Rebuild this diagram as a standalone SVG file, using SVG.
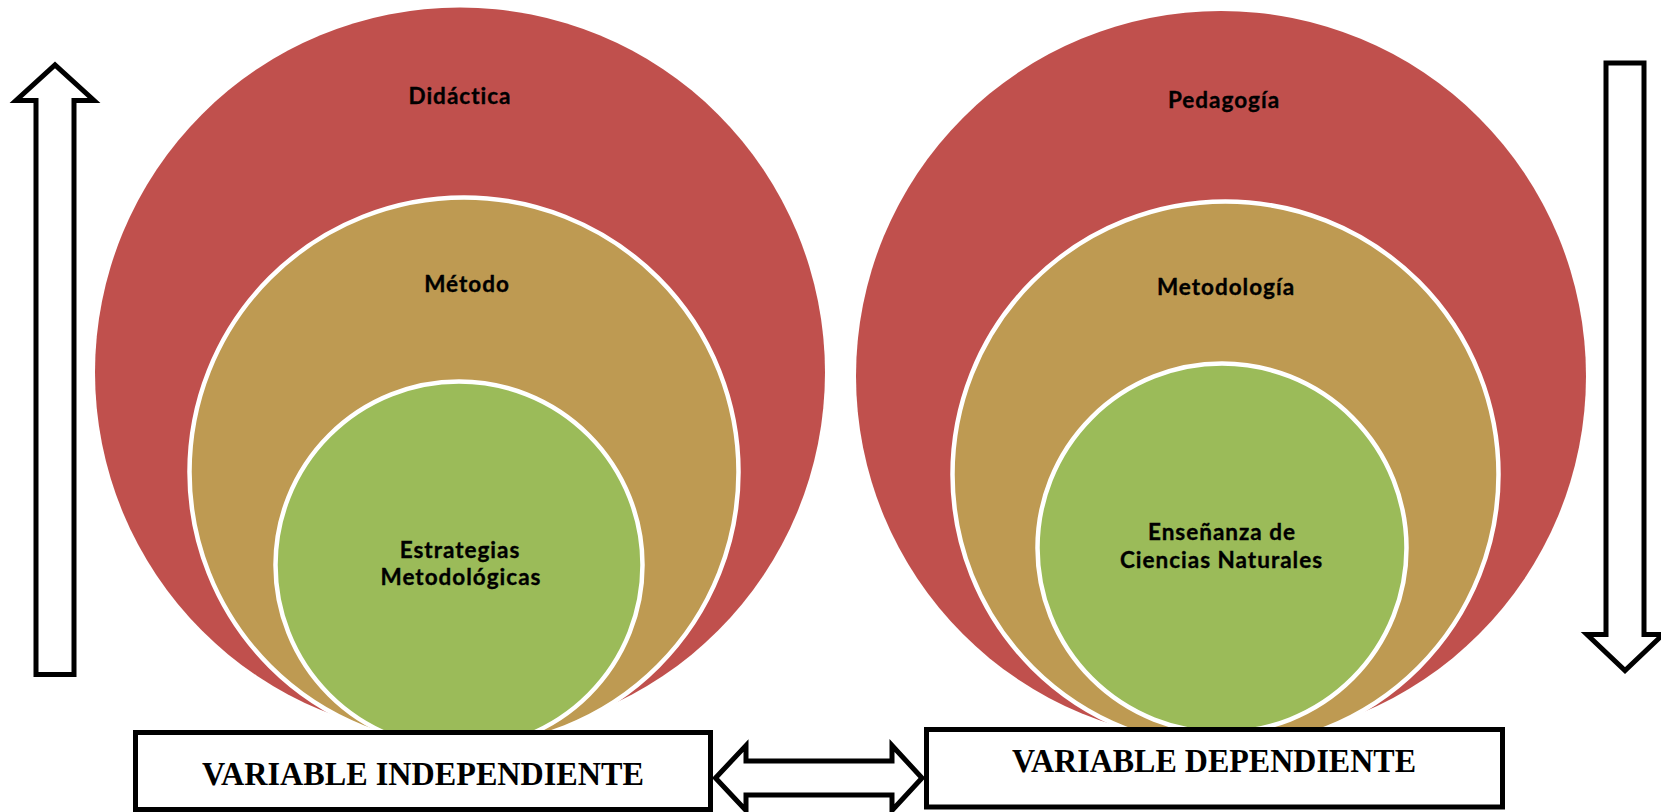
<svg xmlns="http://www.w3.org/2000/svg" width="1661" height="812" viewBox="0 0 1661 812">
<style>
.red{fill:#C0504D;}
.tan{fill:#BE9A52;stroke:#FFFFFF;stroke-width:4.5;}
.grn{fill:#9BBB59;stroke:#FFFFFF;stroke-width:4.5;}
.lbl{font-family:Lato,"Open Sans","Liberation Sans",sans-serif;font-weight:700;font-size:22.5px;letter-spacing:1px;fill:#000;stroke:#000;stroke-width:0.35px;text-anchor:middle;}
.box{fill:#FFFFFF;stroke:#000;stroke-width:5;}
.var{font-family:"Liberation Serif","Times New Roman",serif;font-weight:700;font-size:34px;fill:#000;text-anchor:middle;}
.arw{fill:#FFFFFF;stroke:#000;stroke-width:5;stroke-linejoin:miter;stroke-miterlimit:10;}
</style>
<rect width="1661" height="812" fill="#FFFFFF"/>

<g id="didactica">
<circle class="red" cx="460" cy="372.5" r="365"/>
<text class="lbl" x="460" y="104">Didáctica</text>
</g>
<g id="metodo">
<circle class="tan" cx="464" cy="472" r="274.5"/>
<text class="lbl" x="467" y="292">Método</text>
</g>
<g id="estrategias">
<circle class="grn" cx="459" cy="565" r="183.5"/>
<text class="lbl" x="460" y="557.5">Estrategias</text>
<text class="lbl" x="461" y="585">Metodológicas</text>
</g>

<g id="pedagogia">
<circle class="red" cx="1221" cy="376" r="365"/>
<text class="lbl" x="1224" y="108">Pedagogía</text>
</g>
<g id="metodologia">
<circle class="tan" cx="1225.5" cy="474.5" r="273"/>
<text class="lbl" x="1226" y="295">Metodología</text>
</g>
<g id="ensenanza">
<circle class="grn" cx="1222" cy="548" r="184.5"/>
<text class="lbl" x="1222" y="540">Enseñanza de</text>
<text class="lbl" x="1221.5" y="568">Ciencias Naturales</text>
</g>

<g id="var-independiente">
<rect class="box" x="135.5" y="732.5" width="575" height="77"/>
<text class="var" x="423" y="785" textLength="442" lengthAdjust="spacingAndGlyphs">VARIABLE INDEPENDIENTE</text>
</g>
<g id="var-dependiente">
<rect class="box" x="926.5" y="729.5" width="576" height="77.5"/>
<text class="var" x="1214" y="772" textLength="404" lengthAdjust="spacingAndGlyphs">VARIABLE DEPENDIENTE</text>
</g>

<g id="connectors">
<path class="arw" d="M36 674.5 L36 100.5 L16 100.5 L55 65 L94 100.5 L74 100.5 L74 674.5 Z"/>
<path class="arw" d="M1606 63 L1644 63 L1644 634.5 L1663 634.5 L1625 670.5 L1587 634.5 L1606 634.5 Z"/>
<path class="arw" d="M715.5 778 L746 745.5 L746 761 L892 761 L892 745.5 L922 778 L892 810.5 L892 795 L746 795 L746 810.5 Z"/>
</g>
</svg>
